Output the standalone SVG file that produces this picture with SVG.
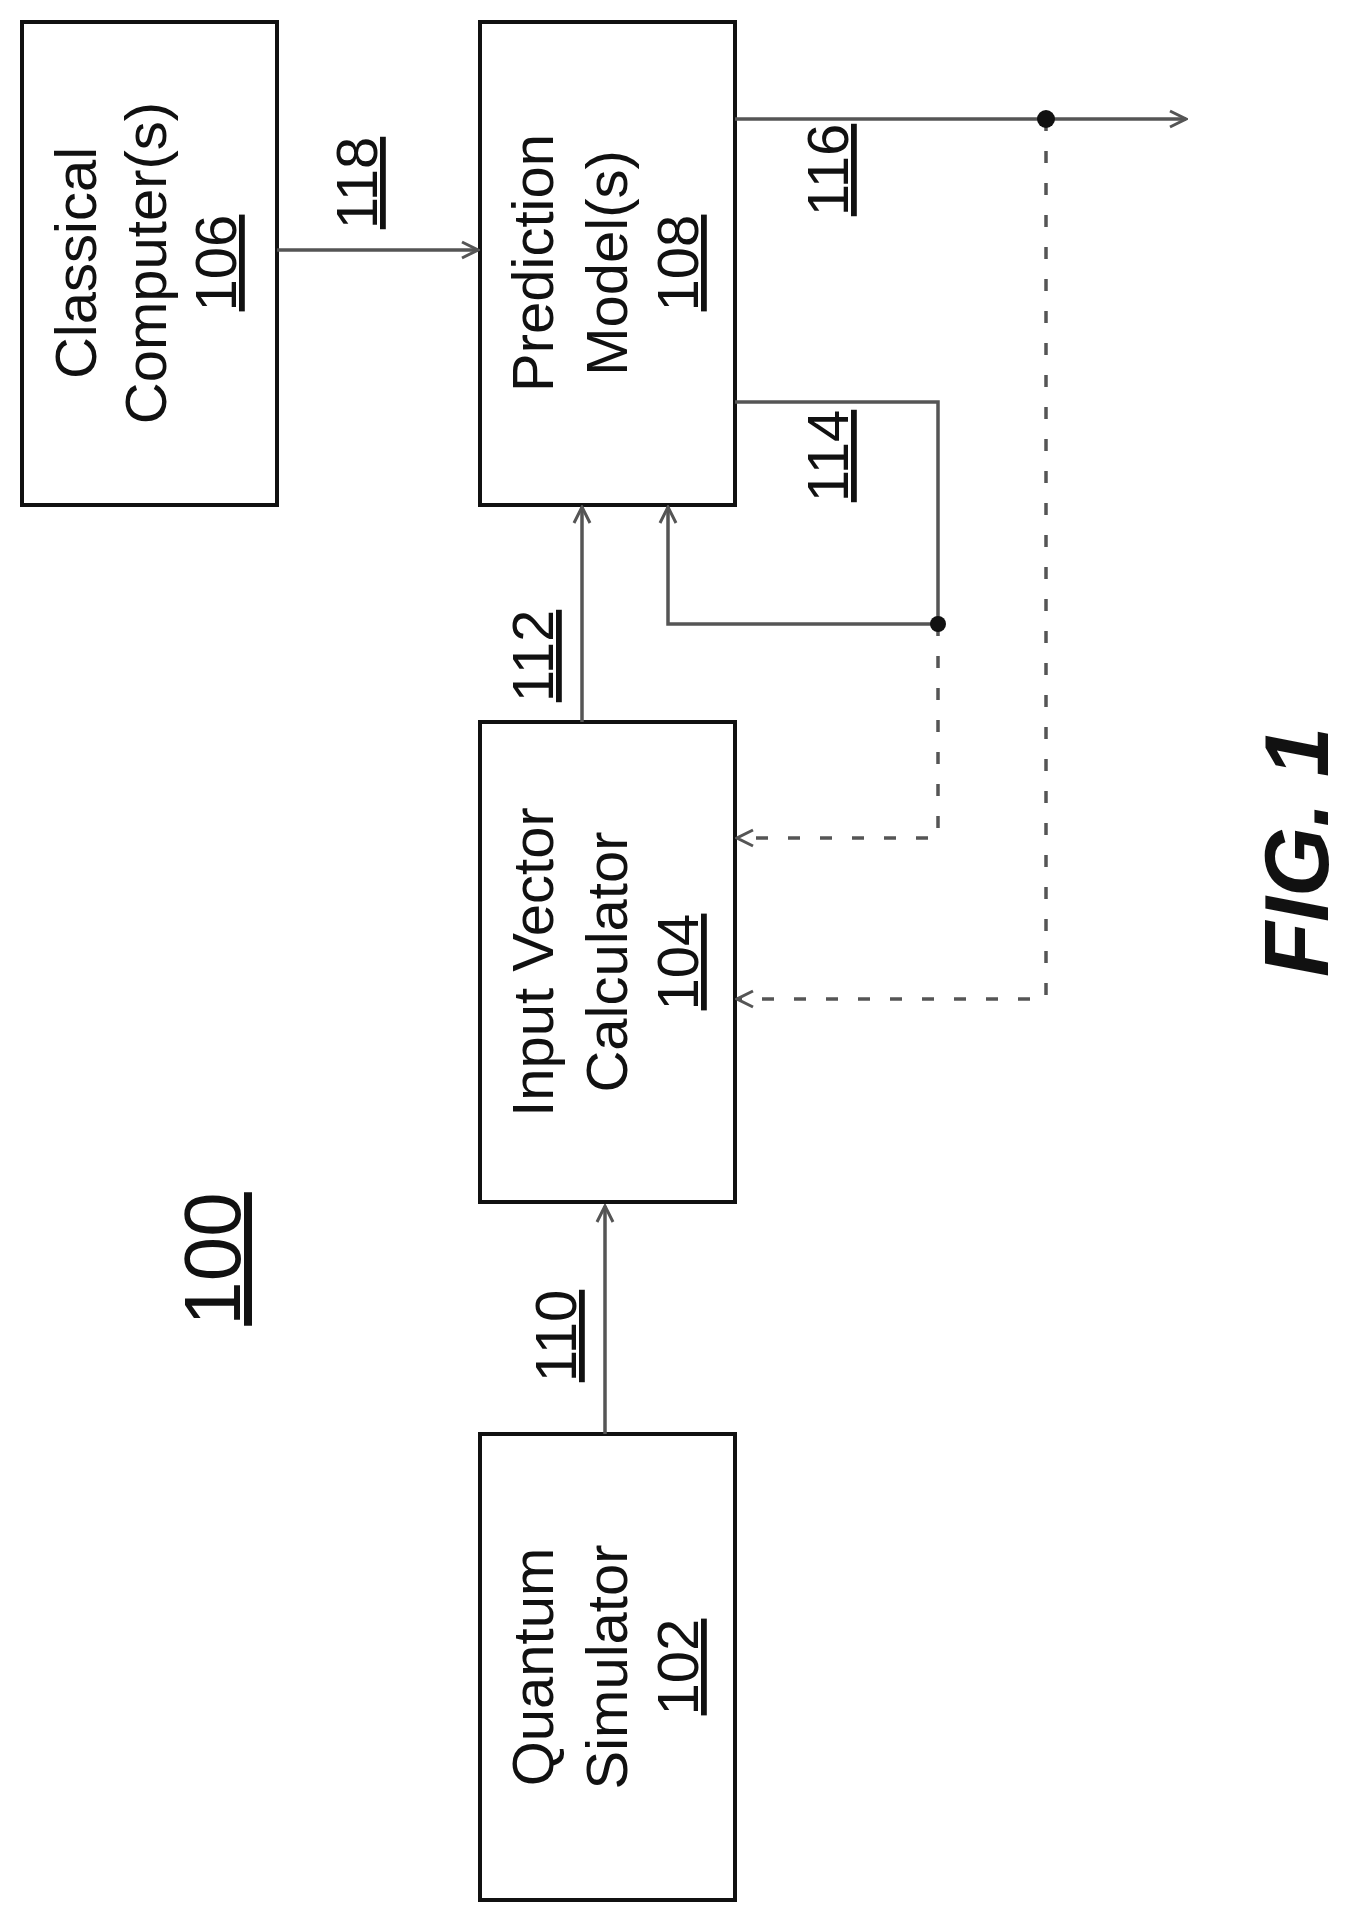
<svg xmlns="http://www.w3.org/2000/svg" width="1357" height="1921" viewBox="0 0 1357 1921">
<style>
.box{fill:#fff;stroke:#111;stroke-width:4}
.t{font-family:"Liberation Sans",Arial,sans-serif;font-size:58px;fill:#111;text-anchor:middle}
.u{text-decoration:underline}
.c{fill:none;stroke:#555;stroke-width:3.5}
.d{fill:none;stroke:#555;stroke-width:3.5;stroke-dasharray:12 20}
</style>
<defs>
<marker id="a" viewBox="0 0 20 20" refX="18" refY="10" markerWidth="20" markerHeight="20" markerUnits="userSpaceOnUse" orient="auto">
<path d="M2,2 L18,10 L2,18" fill="none" stroke="#555" stroke-width="3"/>
</marker>
</defs>
<rect width="1357" height="1921" fill="#fff"/>
<g id="n106"><rect class="box" x="22" y="22" width="255" height="483"/>
<text class="t" transform="translate(96,263) rotate(-90)">Classical</text>
<text class="t" transform="translate(166,263) rotate(-90)">Computer(s)</text>
<text class="t u" transform="translate(236,263) rotate(-90)">106</text></g>
<g id="n108"><rect class="box" x="480" y="22" width="255" height="483"/>
<text class="t" transform="translate(553,263) rotate(-90)">Prediction</text>
<text class="t" transform="translate(627,263) rotate(-90)">Model(s)</text>
<text class="t u" transform="translate(698,263) rotate(-90)">108</text></g>
<g id="n104"><rect class="box" x="480" y="722" width="255" height="480"/>
<text class="t" transform="translate(553,962) rotate(-90)">Input Vector</text>
<text class="t" transform="translate(627,962) rotate(-90)">Calculator</text>
<text class="t u" transform="translate(698,962) rotate(-90)">104</text></g>
<g id="n102"><rect class="box" x="480" y="1434" width="255" height="466"/>
<text class="t" transform="translate(553,1667) rotate(-90)">Quantum</text>
<text class="t" transform="translate(627,1667) rotate(-90)">Simulator</text>
<text class="t u" transform="translate(698,1667) rotate(-90)">102</text></g>
<g id="connectors">
<line class="c" x1="277" y1="250" x2="478" y2="250" marker-end="url(#a)"/>
<line class="c" x1="735" y1="119" x2="1186" y2="119" marker-end="url(#a)"/>
<polyline class="c" points="735,402 938,402 938,624 668,624 668,507" marker-end="url(#a)"/>
<line class="c" x1="582" y1="722" x2="582" y2="507" marker-end="url(#a)"/>
<line class="c" x1="605" y1="1434" x2="605" y2="1206" marker-end="url(#a)"/>
<polyline class="d" points="938,624 938,838 737,838" marker-end="url(#a)"/>
<polyline class="d" points="1046,119 1046,999 737,999" marker-end="url(#a)"/>
<circle cx="938" cy="624" r="8" fill="#111"/>
<circle cx="1046" cy="119" r="9" fill="#111"/>
</g>
<g id="labels">
<text class="t u" transform="translate(377,183) rotate(-90)">118</text>
<text class="t u" transform="translate(848,170) rotate(-90)">116</text>
<text class="t u" transform="translate(848,456) rotate(-90)">114</text>
<text class="t u" transform="translate(553,656) rotate(-90)">112</text>
<text class="t u" transform="translate(576,1336) rotate(-90)">110</text>
<text class="t u" style="font-size:80px" transform="translate(240,1259) rotate(-90)">100</text>
<text class="t" style="font-size:90px;font-weight:bold;font-style:italic" transform="translate(1328,852) rotate(-90)">FIG. 1</text>
</g>
</svg>
